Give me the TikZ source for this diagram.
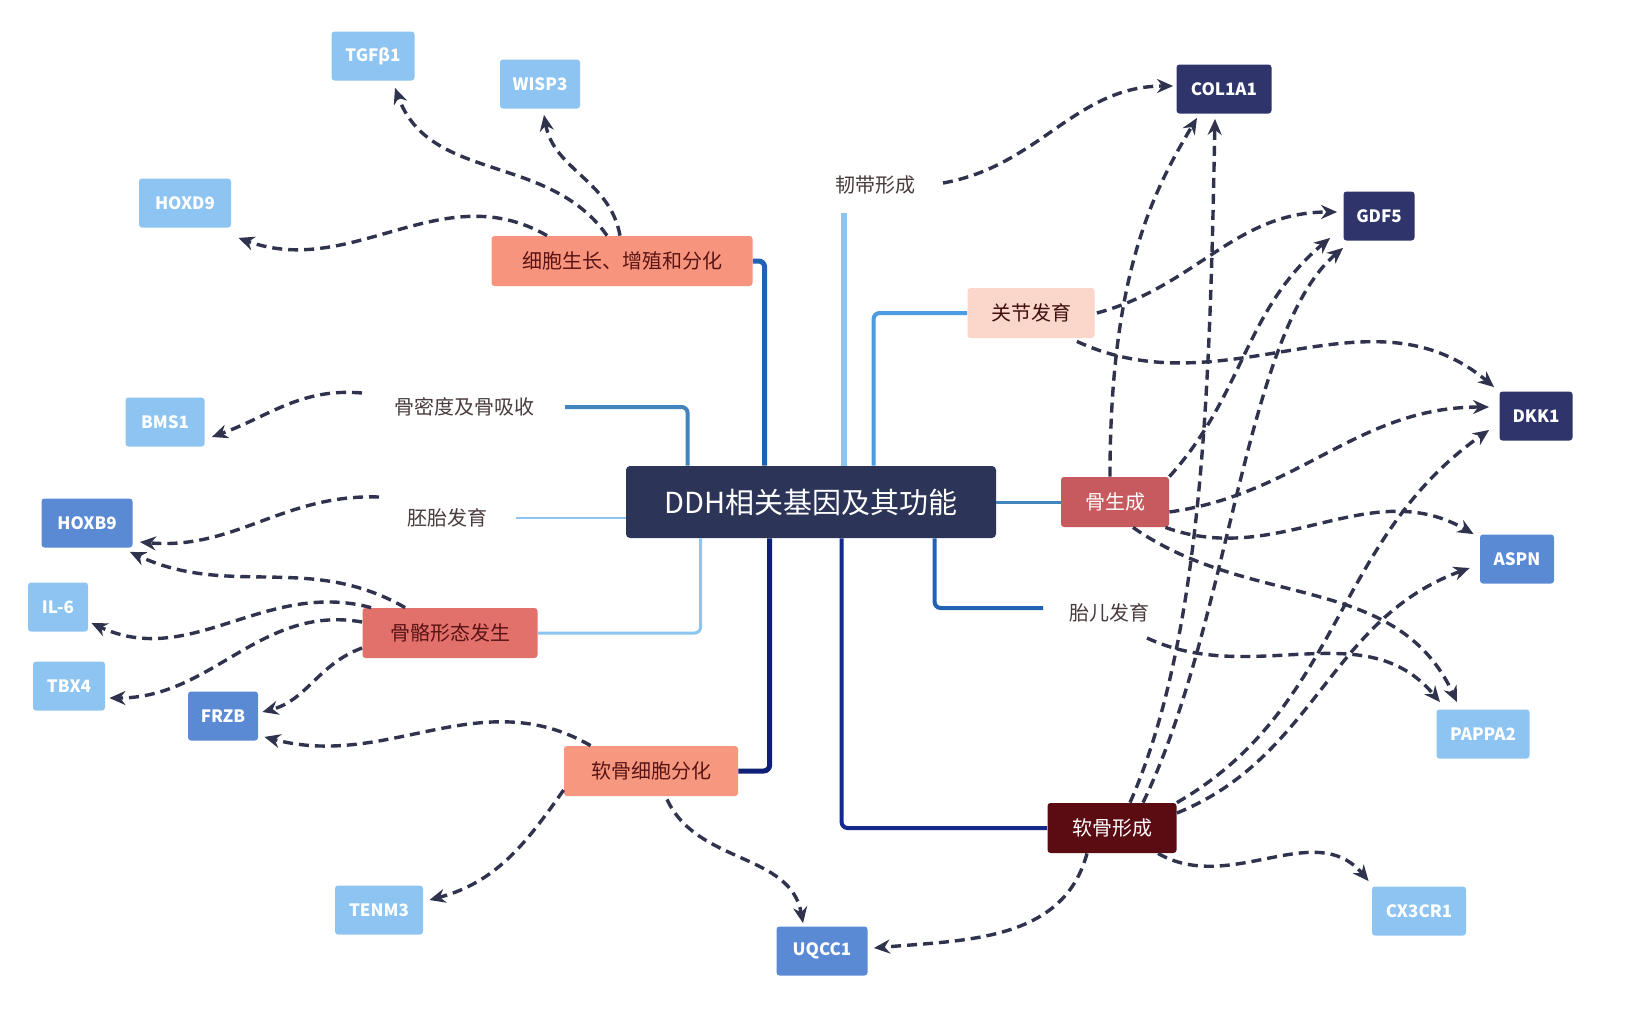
\documentclass[tikz,border=0pt]{standalone}
\usepackage{fontspec}
\setmainfont{Noto Sans CJK SC}
\usetikzlibrary{arrows.meta,calc,positioning}
\definecolor{genelight}{HTML}{8DC4F2}
\definecolor{genemid}{HTML}{5A8AD4}
\definecolor{genedark}{HTML}{2F356B}
\definecolor{hubnavy}{HTML}{2C3558}
\definecolor{cellsalmon}{HTML}{F7947E}
\definecolor{jointpink}{HTML}{FBD6CA}
\definecolor{osteorose}{HTML}{C65A5E}
\definecolor{skelred}{HTML}{E2706B}
\definecolor{chondrosalmon}{HTML}{F6977F}
\definecolor{cartmaroon}{HTML}{5B0B12}
\definecolor{labeltext}{HTML}{4A3C3C}
\definecolor{darkredtext}{HTML}{5A1414}
\definecolor{linkgray}{HTML}{30334D}
\definecolor{treeblue}{HTML}{2361B3}
\definecolor{treelight}{HTML}{8CC5F0}
\definecolor{treemid}{HTML}{4D9BE0}
\definecolor{treenavy}{HTML}{0E2075}
\definecolor{treenavytwo}{HTML}{13298C}

\begin{document}
\begin{tikzpicture}[x=0.5pt,y=-0.5pt,
	% Node styles
	hub/.style={
		rectangle,
		rounded corners=2pt,
		fill=hubnavy,
		text=white,
		minimum width=185pt,
		minimum height=36pt,
		inner sep=0pt,
		font=\fontsize{14.5}{17}\selectfont
	},
	topic/.style={
		rectangle,
		rounded corners=1.5pt,
		fill=#1,
		minimum height=25pt,
		inner sep=0pt,
		font=\fontsize{10}{12}\selectfont
	},
	gene/.style={
		rectangle,
		rounded corners=1.5pt,
		fill=#1,
		text=white,
		minimum height=24.5pt,
		inner sep=0pt,
		font=\fontsize{8.5}{11}\selectfont\bfseries
	},
	freetext/.style={
		text=labeltext,
		inner sep=0pt,
		font=\fontsize{10}{12}\selectfont
	},
	branch/.style={
		rounded corners=3pt
	},
	link/.style={
		-{Stealth[length=8pt,width=7pt]},
		dash pattern=on 5pt off 3pt,
		line width=1.7pt,
		color=linkgray
	}
	]
	
	% Canvas
	\fill[white] (0,0) rectangle (1635,1018);
	\useasboundingbox (0,0) rectangle (1635,1018);
	
	% Central topic
	\node[hub] (hub) at (811,502) {DDH相关基因及其功能};
	
	% Functions
	\node[topic=cellsalmon, text=darkredtext, minimum width=130.5pt] (cell) at (622,261) {细胞生长、增殖和分化};
	\node[topic=jointpink, text=darkredtext!70!black, minimum width=63.5pt] (joint) at (1031,313) {关节发育};
	\node[topic=osteorose, text=white, minimum width=54pt] (osteo) at (1115,502) {骨生成};
	\node[topic=skelred, text=darkredtext, minimum width=87.5pt] (skel) at (450,633) {骨骼形态发生};
	\node[topic=chondrosalmon, text=darkredtext, minimum width=87pt] (chondro) at (651,771) {软骨细胞分化};
	\node[topic=cartmaroon, text=white, minimum width=64.5pt] (cart) at (1112,828) {软骨形成};
	\node[freetext] (lig) at (875,185) {韧带形成};
	\node[freetext] (bmd) at (464,407) {骨密度及骨吸收};
	\node[freetext] (embryo) at (447,518) {胚胎发育};
	\node[freetext] (fetal) at (1109,613) {胎儿发育};
	
	% Genes
	\node[gene=genelight, minimum width=41.5pt] (tgf) at (373,56) {TGFβ1};
	\node[gene=genelight, minimum width=40pt] (wisp) at (540,84) {WISP3};
	\node[gene=genelight, minimum width=46pt] (hoxd) at (185,203) {HOXD9};
	\node[gene=genedark, minimum width=47.5pt] (col) at (1224,89) {COL1A1};
	\node[gene=genedark, minimum width=35.5pt] (gdf) at (1379,216) {GDF5};
	\node[gene=genedark, minimum width=36.5pt] (dkk) at (1536,416) {DKK1};
	\node[gene=genelight, minimum width=39.5pt] (bms) at (165,422) {BMS1};
	\node[gene=genemid, minimum width=45.5pt] (hoxb) at (87,523) {HOXB9};
	\node[gene=genelight, minimum width=30pt] (il) at (58,607) {IL-6};
	\node[gene=genelight, minimum width=36pt] (tbx) at (69,686) {TBX4};
	\node[gene=genemid, minimum width=35pt] (frzb) at (223,716) {FRZB};
	\node[gene=genemid, minimum width=37pt] (aspn) at (1517,559) {ASPN};
	\node[gene=genelight, minimum width=46.5pt] (pappa) at (1483,734) {PAPPA2};
	\node[gene=genelight, minimum width=44pt] (tenm) at (379,910) {TENM3};
	\node[gene=genemid, minimum width=45.5pt] (uqcc) at (822,951) {UQCC1};
	\node[gene=genelight, minimum width=47pt] (cx) at (1419,911) {CX3CR1};
	
	% Tree branches from the central topic
	\draw[branch, treeblue, line width=2.5pt] (cell.east) -| ($(hub.north west)+(139,0)$);
	\draw[treelight, line width=3pt] ($(hub.north west)+(218,0)$) -- ++(0,-253);
	\draw[branch, treemid, line width=2pt] (joint.west) -| ($(hub.north west)+(248,0)$);
	\draw[branch, treemid!85!black, line width=2pt] ($(bmd.center)+(101,0)$) -| ($(hub.north west)+(62,0)$);
	\draw[treelight, line width=1pt] ($(embryo.center)+(69,0)$) -- (embryo.center -| hub.west);
	\draw[branch, treelight, line width=1.5pt] (skel.east) -| ($(hub.south west)+(75,0)$);
	\draw[branch, treenavy, line width=2.5pt] (chondro.east) -| ($(hub.south west)+(144,0)$);
	\draw[branch, treenavytwo, line width=2pt] ($(hub.south west)+(216,0)$) |- (cart.west);
	\draw[branch, treeblue, line width=2pt] ($(hub.south west)+(309,0)$) |- ($(fetal.center)+(-66,-5)$);
	\draw[treemid!85!black, line width=1.5pt] (hub.east) -- (osteo.west);
	
	% Gene links, left side
	\draw[link] ($(cell.north)+(-15,0)$) to[out=125, in=-70] ($(tgf.south)+(22,7)$);
	\draw[link] ($(cell.north)+(-2,0)$) to[out=100, in=-80] ($(wisp.south)+(4,6)$);
	\draw[link] ($(cell.north)+(-75,0)$) to[out=150, in=-20] ($(hoxd.south east)+(7,10)$);
	\draw[link] ($(bmd.center)+(-102,-14)$) to[out=175, in=20] ($(bms.east)+(7,15)$);
	\draw[link] ($(embryo.center)+(-68,-21)$) to[out=178, in=-5] ($(hoxb.east)+(7,19)$);
	\draw[link] ($(skel.north west)+(43,0)$) to[out=150, in=-25] ($(hoxb.south east)+(-3,4)$);
	\draw[link] ($(skel.north west)+(9,0)$) to[out=165, in=-25] ($(il.east)+(3,16)$);
	\draw[link] ($(skel.west)+(0,-11)$) to[out=170, in=0] ($(tbx.east)+(4,12)$);
	\draw[link] ($(skel.west)+(0,15)$) to[out=200, in=15] ($(frzb.east)+(4,-4)$);
	\draw[link] ($(chondro.north west)+(27,0)$) to[out=150, in=-15] ($(frzb.south east)+(6,-4)$);
	\draw[link] ($(chondro.west)+(0,19)$) to[out=235, in=15] ($(tenm.east)+(6,-10)$);
	\draw[link] ($(chondro.south)+(16,3)$) to[out=-65, in=100] ($(uqcc.north)+(-19,-3)$);
	
	% Gene links, right side
	\draw[link] ($(lig.center)+(68,-2)$) to[out=10, in=180] ($(col.west)+(-3,-3)$);
	\draw[link] ($(joint.east)+(2,0)$) to[out=15, in=180] ($(gdf.west)+(-6,-4)$);
	\draw[link] ($(joint.south east)+(-18,3)$) to[out=-25, in=140] ($(dkk.north west)+(-5,-4)$);
	\draw[link] ($(osteo.north)+(-5,0)$) .. controls +(0,-200) and +(-45,75) .. ($(col.south)+(-27,4)$);
	\draw[link] (osteo.north east) to[out=48, in=-140] ($(gdf.south west)+(-13,-3)$);
	\draw[link] ($(osteo.east)+(0,10)$) to[out=8, in=180] ($(dkk.west)+(-10,-9)$);
	\draw[link] ($(osteo.south east)+(-4,0)$) to[out=-20, in=150] ($(aspn.north west)+(-6,0)$);
	\draw[link] ($(osteo.south)+(18,0)$) to[out=-35, in=115] ($(pappa.north)+(-26,-7)$);
	\draw[link] ($(fetal.center)+(38,25)$) to[out=-25, in=130] ($(pappa.north)+(-43,-7)$);
	\draw[link] ($(cart.north)+(18,0)$) .. controls +(75,-170) and +(-5,250) .. ($(col.south)+(-9,5)$);
	\draw[link] ($(cart.north)+(31,0)$) .. controls +(87,-180) and +(-98,83) .. ($(gdf.south west)+(0,7)$);
	\draw[link] (cart.north east) to[out=30, in=-145] ($(dkk.west)+(-10,14)$);
	\draw[link] ($(cart.east)+(0,-15)$) to[out=22, in=-160] ($(aspn.west)+(-10,9)$);
	\draw[link] ($(cart.south)+(46,0)$) to[out=-30, in=130] ($(cx.north west)+(-3,-5)$);
	\draw[link] ($(cart.south)+(-25,0)$) to[out=-105, in=5] ($(uqcc.east)+(6,-3)$);
	
\end{tikzpicture}
\end{document}
